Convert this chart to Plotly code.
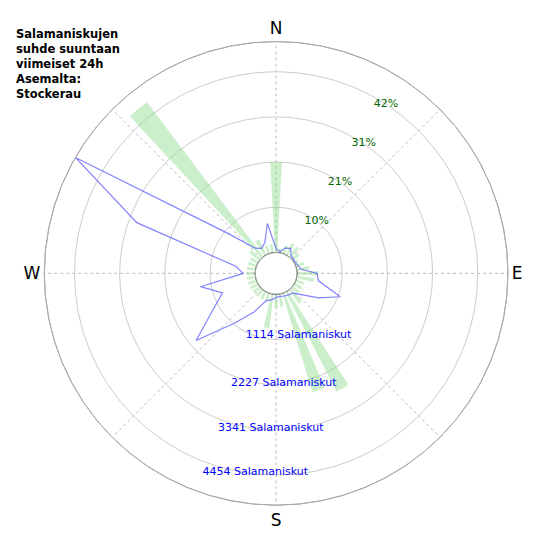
import plotly.graph_objects as go

# green bars: share of strikes per direction (%)
bar_dirs = [0, 10, 20, 30, 40, 50, 60, 70, 80, 90, 100, 110, 120, 130, 140, 150, 160, 170,
            180, 190, 200, 210, 220, 230, 240, 250, 260, 270, 280, 290, 300, 310, 320, 330, 340, 350]
bar_pct = [21, 1, 2, 3, 3, 2, 1, 2, 3, 5, 4, 2, 2, 2, 4, 26, 24, 3,
           3, 8, 2, 2, 2, 2, 2, 2, 2, 2, 2, 2, 2, 3, 45, 4, 2, 2]

# blue line: strike counts per direction
line_dirs = [0, 10, 20, 30, 40, 50, 60, 70, 80, 90, 100, 110, 120, 130, 140, 150, 160, 170,
             180, 190, 200, 210, 220, 230, 240, 250, 260, 270, 280, 290, 300, 310, 320, 330, 340, 350, 0]
line_cnt = [100, 30, 150, 200, 60, 40, 30, 60, 100, 500, 550, 1180, 700, 300, 120, 100, 80, 60,
            80, 150, 200, 600, 1100, 2080, 1300, 900, 1390, 300, 500, 3170, 5250, 1000, 300, 200, 300, 740, 100]

pct_ticks = [10.5, 21, 31.5, 42]
pct_labels = ["10%", "21%", "31%", "42%"]
pct_label_dir = [38, 35, 34, 33]
cnt_ticks = [1114, 2227, 3341, 4454]
cnt_labels = [f"{v} Salamaniskut" for v in cnt_ticks]
cnt_label_dir = [160, 176, 182, 186]

hole_dirs = list(range(0, 361, 5))

fig = go.Figure()
fig.add_trace(go.Barpolar(r=bar_pct, theta=bar_dirs, width=6, marker_color="rgba(140,220,140,0.45)",
                          marker_line_width=0, subplot="polar"))
fig.add_trace(go.Scatterpolar(r=pct_ticks, theta=pct_label_dir, mode="text", text=pct_labels,
                              textfont=dict(size=11, color="darkgreen"), subplot="polar"))
fig.add_trace(go.Scatterpolar(r=line_cnt, theta=line_dirs, mode="lines",
                              line=dict(color="rgba(90,90,255,0.75)", width=1.2), subplot="polar2"))
fig.add_trace(go.Scatterpolar(r=[0] * len(hole_dirs), theta=hole_dirs, mode="lines",
                              line=dict(color="#222", width=1), subplot="polar2"))
fig.add_trace(go.Scatterpolar(r=cnt_ticks, theta=cnt_label_dir, mode="text", text=cnt_labels,
                              textfont=dict(size=11, color="blue"), subplot="polar2"))

ang = dict(rotation=90, direction="clockwise", tickvals=[0, 45, 90, 135, 180, 225, 270, 315],
           ticktext=["N", "", "E", "", "S", "", "W", ""], tickfont=dict(size=17, color="black"),
           showgrid=True, gridcolor="#bbb", griddash="dot", linecolor="#aaa", ticks="")
dom = dict(x=[0.066, 0.909], y=[0.095, 0.94])

fig.update_layout(
    width=550, height=550, showlegend=False, paper_bgcolor="white",
    margin=dict(l=0, r=0, t=0, b=0),
    font=dict(family="DejaVu Sans"),
    polar=dict(domain=dom, hole=0.09, bgcolor="rgba(0,0,0,0)", angularaxis=ang,
               radialaxis=dict(range=[0, 49], tickvals=pct_ticks, showticklabels=False,
                               showline=False, gridcolor="#ccc", ticks="")),
    polar2=dict(domain=dom, hole=0.09, bgcolor="rgba(0,0,0,0)",
                angularaxis=dict(ang, showgrid=False, showticklabels=False),
                radialaxis=dict(range=[0, 5250], showticklabels=False,
                                showline=False, showgrid=False, ticks="")),
    annotations=[dict(text="<b>Salamaniskujen<br>suhde suuntaan<br>viimeiset 24h<br>Asemalta:<br>Stockerau</b>",
                      x=0.01, y=0.97, xref="paper", yref="paper", xanchor="left", yanchor="top",
                      align="left", showarrow=False, font=dict(size=11.5, color="black"))],
)

fig.write_html("out.html")
